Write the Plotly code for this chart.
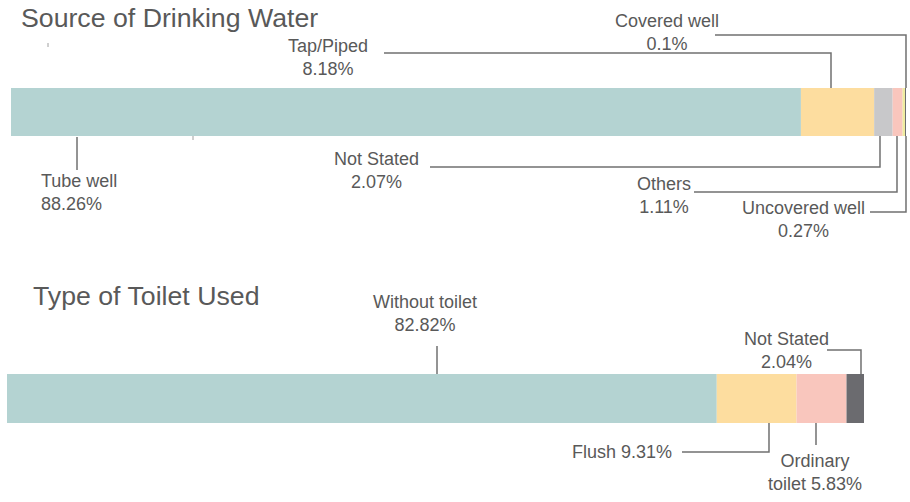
import plotly.graph_objects as go

# ---- data ----
water_labels = ["Tube well", "Tap/Piped", "Not Stated", "Others", "Uncovered well", "Covered well"]
water_values = [88.26, 8.18, 2.07, 1.11, 0.27, 0.10]
water_colors = ["#b4d3d2", "#fddd9f", "#c8c8ca", "#f9c6bd", "#f1eca0", "#6d6e71"]

toilet_labels = ["Without toilet", "Flush", "Ordinary toilet", "Not Stated"]
toilet_values = [82.82, 9.31, 5.83, 2.04]
toilet_colors = ["#b4d3d2", "#fddd9f", "#f9c6bd", "#6b6b6f"]

W, H = 910, 502
TXT = "#595959"
LINE = "#707070"
FONT = "Liberation Sans, Arial, sans-serif"


def cum_bases(vals):
    out, s = [], 0.0
    for v in vals:
        out.append(s)
        s += v
    return out


fig = go.Figure()
fig.add_trace(go.Bar(
    orientation="h", x=water_values, base=cum_bases(water_values),
    y=[112] * len(water_values), width=48, marker=dict(color=water_colors, line=dict(width=0)),
    text=water_labels, hovertemplate="%{text}: %{x}%<extra></extra>", textposition="none",
    xaxis="x", yaxis="y", showlegend=False))
fig.add_trace(go.Bar(
    orientation="h", x=toilet_values, base=cum_bases(toilet_values),
    y=[398.5] * len(toilet_values), width=49, marker=dict(color=toilet_colors, line=dict(width=0)),
    text=toilet_labels, hovertemplate="%{text}: %{x}%<extra></extra>", textposition="none",
    xaxis="x2", yaxis="y", showlegend=False))

# pixel mapping: top bar 0..100 -> 11..906 px ; bottom bar 0..100 -> 7..864 px
s1 = (906 - 11) / 100.0
s2 = (864 - 7) / 100.0


def px(x):
    return x / W


shapes = []


def leader(points, color=LINE, width=1.5):
    d = "M " + " L ".join(f"{px(x):.5f},{y}" for x, y in points)
    shapes.append(dict(type="path", path=d, xref="paper", yref="y",
                       line=dict(color=color, width=width)))


# top chart leaders
leader([(77, 137), (77, 170)])
leader([(384, 53), (831, 53), (831, 88)])
leader([(715, 35), (906, 35), (906, 88)])
leader([(430, 167), (880, 167), (880, 136)])
leader([(694, 192), (897, 192), (897, 136)])
leader([(870, 212), (906, 212), (906, 136)])
# small stray marks
leader([(48, 43), (48, 47)], color="#a0a0a0", width=1)
leader([(193, 136), (193, 140)], color="#a0a0a0", width=1)
# bottom chart leaders
leader([(437, 346), (437, 374)])
leader([(827, 350), (861, 350), (861, 374)])
leader([(682, 452), (769, 452), (769, 423)])
leader([(816, 423), (816, 445)])

annotations = []


def label(text, x, y, xanchor="center", align="center", size=18):
    annotations.append(dict(text=text, x=px(x), y=y, xref="paper", yref="y",
                            xanchor=xanchor, yanchor="middle", align=align,
                            showarrow=False, font=dict(family=FONT, size=size, color=TXT)))


label("Source of Drinking Water", 19, 18, xanchor="left", align="left", size=26.7)
label("Type of Toilet Used", 31, 296, xanchor="left", align="left", size=26.7)

label(f"{water_labels[0]}<br>{water_values[0]:.2f}%", 39, 192, xanchor="left", align="left")
label(f"{water_labels[1]}<br>{water_values[1]:.2f}%", 328, 57)
label(f"{water_labels[5]}<br>{water_values[5]:g}%", 667, 32)
label(f"{water_labels[2]}<br>{water_values[2]:.2f}%", 376, 170)
label(f"{water_labels[3]}<br>{water_values[3]:.2f}%", 664, 195.5)
label(f"{water_labels[4]}<br>{water_values[4]:.2f}%", 803, 219)

label(f"{toilet_labels[0]}<br>{toilet_values[0]:.2f}%", 425, 313.5)
label(f"{toilet_labels[3]}<br>{toilet_values[3]:.2f}%", 786, 350.5)
label(f"{toilet_labels[1]} {toilet_values[1]:.2f}%", 622, 452)
label(f"Ordinary<br>toilet {toilet_values[2]:.2f}%", 815, 472.5)

fig.update_layout(
    width=W, height=H, margin=dict(l=0, r=0, t=0, b=0),
    paper_bgcolor="white", plot_bgcolor="white", barmode="overlay",
    xaxis=dict(domain=[0, 1], range=[-11 / s1, (W - 11) / s1], visible=False, fixedrange=True),
    xaxis2=dict(domain=[0, 1], range=[-7 / s2, (W - 7) / s2], visible=False,
                overlaying="x", anchor="y", fixedrange=True),
    yaxis=dict(domain=[0, 1], range=[H, 0], visible=False, fixedrange=True),
    shapes=shapes, annotations=annotations,
)

fig.write_html("out.html", config={"displayModeBar": False},
               post_script="document.body.style.margin='0';document.body.style.overflow='hidden';")
